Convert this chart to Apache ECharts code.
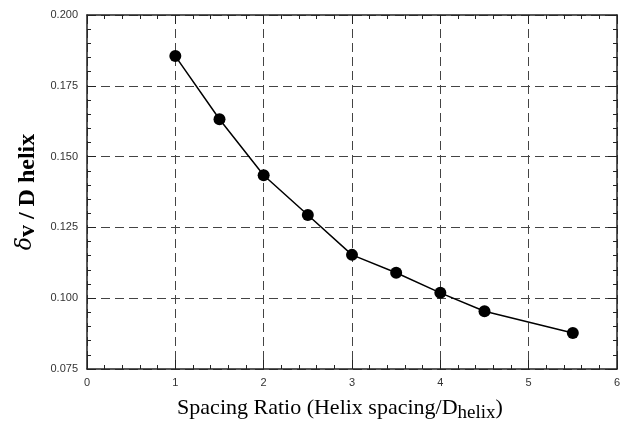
<!DOCTYPE html>
<html>
<head>
<meta charset="utf-8">
<script src="https://cdn.jsdelivr.net/npm/echarts@6/dist/echarts.min.js"></script>
<style>html,body{margin:0;padding:0;background:#fff;}#c{width:627px;height:421px;}</style>
</head>
<body>
<div id="c"></div>
<script>
const spacingRatio = [1, 1.5, 2, 2.5, 3, 3.5, 4, 4.5, 5.5];
const deltaOverD = [0.1855, 0.1632, 0.1434, 0.1294, 0.1153, 0.109, 0.1019, 0.0954, 0.0877];
const xTicks = [0, 1, 2, 3, 4, 5, 6];
const yTicks = ['0.075', '0.100', '0.125', '0.150', '0.175', '0.200'];

const chart = echarts.init(document.getElementById('c'), null, {renderer: 'canvas'});
const axisLineStyle = {color: '#222', width: 1.5};
const tickStyle = {color: '#222', width: 1};
const gridDash = {color: '#444', type: [9, 5], width: 1};
const labelStyle = {fontFamily: 'Liberation Sans, Arial', fontSize: 11, color: '#333'};

const xBase = {
  type: 'value', min: xTicks[0], max: xTicks[xTicks.length - 1], interval: 1,
  axisLine: {show: true, onZero: false, lineStyle: axisLineStyle},
  axisTick: {show: true, inside: true, length: 9, lineStyle: tickStyle},
  minorTick: {show: true, splitNumber: 5, length: 4, lineStyle: tickStyle}
};
const yMin = parseFloat(yTicks[0]), yMax = parseFloat(yTicks[yTicks.length - 1]);
const yBase = {
  type: 'value', min: yMin, max: yMax, interval: 0.025,
  axisLine: {show: true, onZero: false, lineStyle: axisLineStyle},
  axisTick: {show: true, inside: true, length: 9, lineStyle: tickStyle},
  minorTick: {show: true, splitNumber: 5, length: 4, lineStyle: tickStyle}
};

chart.setOption({
  animation: false,
  backgroundColor: '#fff',
  grid: {left: 87, top: 15, right: 10, bottom: 52, containLabel: false, outerBoundsMode: 'none'},
  xAxis: [
    Object.assign({}, xBase, {
      position: 'bottom',
      axisLabel: Object.assign({margin: 8, formatter: v => String(v)}, labelStyle),
      splitLine: {show: true, lineStyle: gridDash},
      name: '{a|Spacing Ratio (Helix spacing/D}{s|helix}{a|)}',
      nameLocation: 'middle', nameGap: 27,
      nameTextStyle: {
        padding: [0, 24, 0, 0],
        rich: {
          a: {fontFamily: 'Liberation Serif, Times New Roman', fontSize: 22, color: '#000', lineHeight: 24},
          s: {fontFamily: 'Liberation Serif, Times New Roman', fontSize: 19, color: '#000', padding: [10, 0, 0, 0], lineHeight: 24}
        }
      }
    }),
    Object.assign({}, xBase, {position: 'top', axisLabel: {show: false}, splitLine: {show: false}})
  ],
  yAxis: [
    Object.assign({}, yBase, {
      position: 'left',
      axisLabel: Object.assign({margin: 9, formatter: v => v.toFixed(3)}, labelStyle),
      splitLine: {show: true, lineStyle: gridDash},
      name: '{d|δ}{b|v / D helix}',
      nameLocation: 'middle', nameGap: 43, nameRotate: 90,
      nameTextStyle: {
        rich: {
          d: {fontFamily: 'DejaVu Serif, Liberation Serif', fontSize: 22, color: '#000', fontStyle: 'italic'},
          b: {fontFamily: 'Liberation Serif, Times New Roman', fontSize: 24, fontWeight: 'bold', color: '#000', padding: [4, 0, 0, 0]}
        }
      }
    }),
    Object.assign({}, yBase, {position: 'right', axisLabel: {show: false}, splitLine: {show: false}})
  ],
  series: [{
    type: 'line',
    data: spacingRatio.map((x, i) => [x, deltaOverD[i]]),
    symbol: 'circle', symbolSize: 12,
    itemStyle: {color: '#000'},
    lineStyle: {color: '#000', width: 1.5}
  }]
});
</script>
</body>
</html>
